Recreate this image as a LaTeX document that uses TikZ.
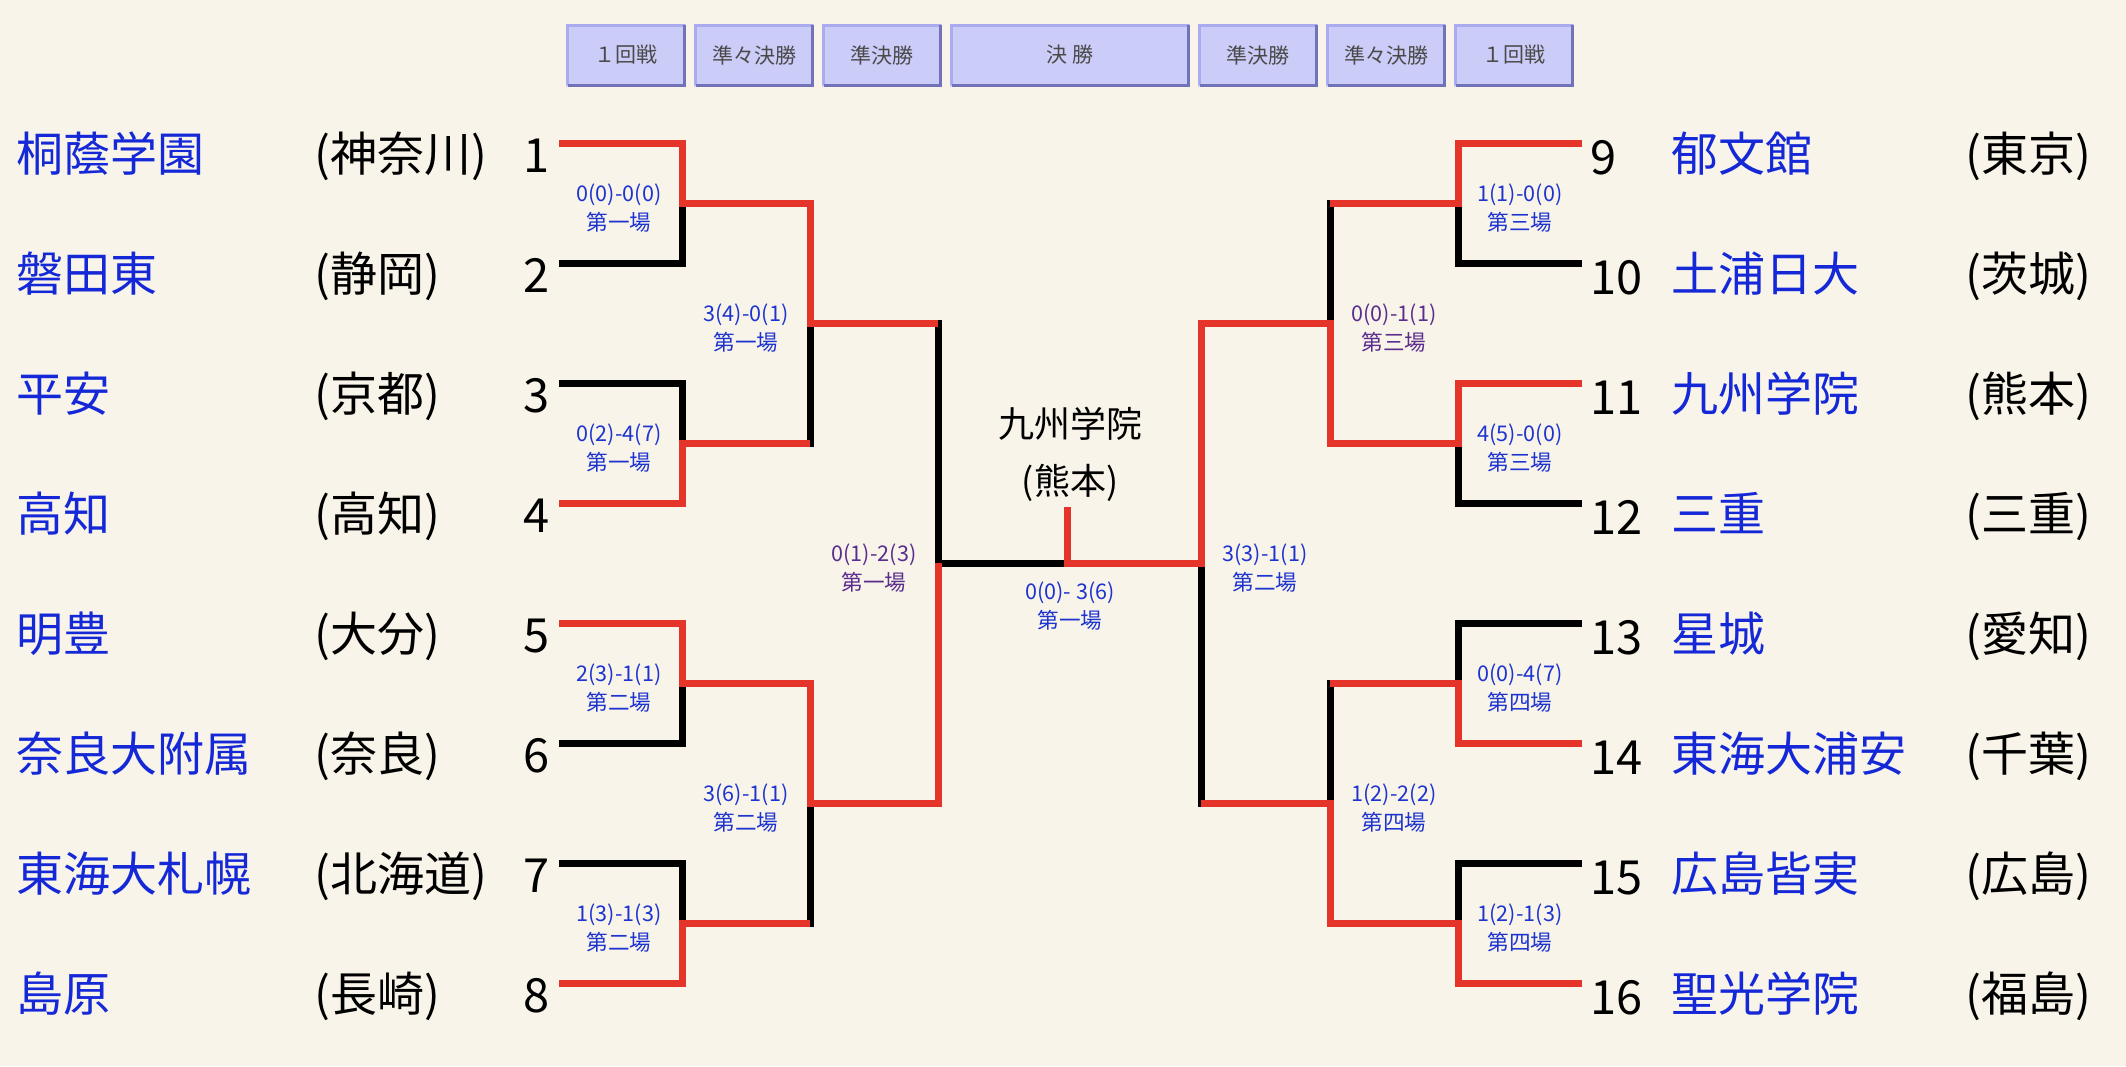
\documentclass[tikz,border=0pt]{standalone}
\usepackage{fontspec}
\setmainfont{Noto Sans CJK JP}
\usetikzlibrary{positioning}

\definecolor{bgcream}{HTML}{F8F4E9}
\definecolor{winred}{HTML}{E5352A}
\definecolor{teamblue}{HTML}{1428D8}
\definecolor{scoreblue}{HTML}{1E34D0}
\definecolor{scorepurple}{HTML}{5B2D8E}
\definecolor{tabfill}{HTML}{CCCCF8}
\definecolor{tablight}{HTML}{AAAAEE}
\definecolor{tabdark}{HTML}{7272B8}
\definecolor{tabtext}{HTML}{4A4A4A}

\begin{document}
\begin{tikzpicture}[
    x=0.5pt, y=-0.5pt,
    node distance=4pt,
    tab/.style={rectangle, fill=tabfill, minimum width=60pt, minimum height=31.5pt, inner sep=0pt, outer sep=0pt, text=tabtext, font=\fontsize{10.5}{12}\selectfont},
    school/.style={anchor=base west, inner sep=0pt, text=teamblue, font=\fontsize{23.5}{28}\selectfont},
    home/.style={anchor=base west, inner sep=0pt, font=\fontsize{23.5}{28}\selectfont},
    seed/.style={inner sep=0pt, font=\fontsize{23.5}{28}\selectfont},
    score/.style={anchor=base, inner sep=0pt, font=\fontsize{10.8}{12}\selectfont},
    champ/.style={anchor=base, inner sep=0pt, font=\fontsize{18}{22}\selectfont},
    lost/.style={draw=black, line width=3.5pt},
    won/.style={draw=winred, line width=3.5pt}
]
    % page and background
    \fill[bgcream] (0,0) rectangle (2126,1066);
    \useasboundingbox (0,0) rectangle (2126,1066);

    % round headers
    \node[tab] (h1) at (626,55) {１回戦};
    \node[tab, right=of h1] (h2) {準々決勝};
    \node[tab, right=of h2] (h3) {準決勝};
    \node[tab, right=of h3, minimum width=120pt] (h4) {決 勝};
    \node[tab, right=of h4] (h5) {準決勝};
    \node[tab, right=of h5] (h6) {準々決勝};
    \node[tab, right=of h6] (h7) {１回戦};
    \foreach \h in {h1,h2,h3,h4,h5,h6,h7} {
        \draw[tablight, line width=1.5pt] ([shift={(1.5,-1.5)}]\h.south west) -- ([shift={(1.5,1.5)}]\h.north west) -- ([shift={(-1.5,1.5)}]\h.north east);
        \draw[tabdark, line width=1.5pt] ([shift={(-1.5,1.5)}]\h.north east) -- ([shift={(-1.5,-1.5)}]\h.south east) -- ([shift={(1.5,-1.5)}]\h.south west);
    }

    % left teams
    \foreach \i/\school/\pref [evaluate=\i as \ry using 143+120*(\i-1)] in {1/桐蔭学園/神奈川, 2/磐田東/静岡, 3/平安/京都, 4/高知/高知, 5/明豊/大分, 6/奈良大附属/奈良, 7/東海大札幌/北海道, 8/島原/長崎} {
        \node[school] (s\i) at (16,\ry+28) {\school};
        \node[home] (p\i) at (314,\ry+28) {(\pref)};
        \node[seed, anchor=base east] (n\i) at (550,\ry+29) {\i};
        \coordinate (e\i) at (559,\ry);
    }
    % right teams
    \foreach \i/\school/\pref [evaluate=\i as \ry using 143+120*(\i-9)] in {9/郁文館/東京, 10/土浦日大/茨城, 11/九州学院/熊本, 12/三重/三重, 13/星城/愛知, 14/東海大浦安/千葉, 15/広島皆実/広島, 16/聖光学院/福島} {
        \node[seed, anchor=base west] (n\i) at (1590,\ry+31) {\i};
        \node[school] (s\i) at (1671,\ry+28) {\school};
        \node[home] (p\i) at (1965,\ry+28) {(\pref)};
        \coordinate (e\i) at (1582,\ry);
    }

    % match points
    \coordinate (a1) at (682,203);
    \coordinate (a2) at (682,443);
    \coordinate (a3) at (682,683);
    \coordinate (a4) at (682,923);
    \coordinate (b1) at (810,323);
    \coordinate (b2) at (810,803);
    \coordinate (c1) at (938,563);
    \coordinate (a5) at (1458,203);
    \coordinate (a6) at (1458,443);
    \coordinate (a7) at (1458,683);
    \coordinate (a8) at (1458,923);
    \coordinate (b3) at (1330,323);
    \coordinate (b4) at (1330,803);
    \coordinate (c2) at (1201,563);
    \coordinate (fin) at (1067,563);
    \coordinate (top) at (1067,507);

    % whole bracket in black
    \draw[lost] (e1) -| (a1) |- (e2);
    \draw[lost] (e3) -| (a2) |- (e4);
    \draw[lost] (e5) -| (a3) |- (e6);
    \draw[lost] (e7) -| (a4) |- (e8);
    \draw[lost] (a1) -| (b1) |- (a2);
    \draw[lost] (a3) -| (b2) |- (a4);
    \draw[lost] (b1) -| (c1) |- (b2);
    \draw[lost] (e9) -| (a5) |- (e10);
    \draw[lost] (e11) -| (a6) |- (e12);
    \draw[lost] (e13) -| (a7) |- (e14);
    \draw[lost] (e15) -| (a8) |- (e16);
    \draw[lost] (a5) -| (b3) |- (a6);
    \draw[lost] (a7) -| (b4) |- (a8);
    \draw[lost] (b3) -| (c2) |- (b4);
    \draw[lost] (c1) -- (c2);

    % winners in red
    \draw[won] (e1) -| (a1) -| (b1) -- (b1 -| c1);
    \draw[won] (e4) -| (a2) -- (a2 -| b1);
    \draw[won] (e5) -| (a3) -| (b2) -| (c1);
    \draw[won] (e8) -| (a4) -- (a4 -| b2);
    \draw[won] (e9) -| (a5) -- (a5 -| b3);
    \draw[won] (e11) -| (a6) -| (b3) -| (c2) -- (fin) -- (top);
    \draw[won] (e14) -| (a7) -- (a7 -| b4);
    \draw[won] (e16) -| (a8) -| (b4) -- (b4 -| c2);

    % scores
    \foreach \m/\x/\y/\res/\ven/\col in {
        m1/619/201/0(0)-0(0)/第一場/scoreblue,
        m2/619/441/0(2)-4(7)/第一場/scoreblue,
        m3/619/681/2(3)-1(1)/第二場/scoreblue,
        m4/619/921/1(3)-1(3)/第二場/scoreblue,
        m5/746/321/3(4)-0(1)/第一場/scoreblue,
        m6/746/801/3(6)-1(1)/第二場/scoreblue,
        m7/874/561/0(1)-2(3)/第一場/scorepurple,
        m8/1070/599/0(0)- 3(6)/第一場/scoreblue,
        m9/1265/561/3(3)-1(1)/第二場/scoreblue,
        m10/1394/321/0(0)-1(1)/第三場/scorepurple,
        m11/1394/801/1(2)-2(2)/第四場/scoreblue,
        m12/1520/201/1(1)-0(0)/第三場/scoreblue,
        m13/1520/441/4(5)-0(0)/第三場/scoreblue,
        m14/1520/681/0(0)-4(7)/第四場/scoreblue,
        m15/1520/921/1(2)-1(3)/第四場/scoreblue} {
        \node[score, text=\col] (\m r) at (\x,\y) {\res};
        \node[score, text=\col] (\m v) at (\x,\y+29) {\ven};
    }

    % champion
    \node[champ] (winner) at (1070,437) {九州学院};
    \node[champ] (winpref) at (1070,494) {(熊本)};
\end{tikzpicture}
\end{document}
